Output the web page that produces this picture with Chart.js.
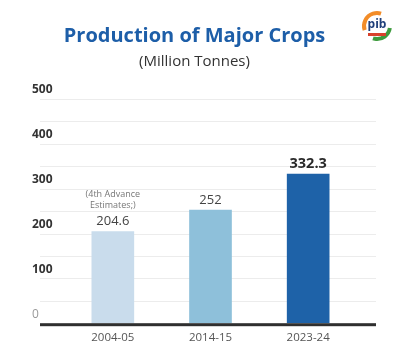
<!DOCTYPE html>
<html>
<head>
<meta charset="utf-8">
<script src="https://cdn.jsdelivr.net/npm/chart.js@4"></script>
<style>
  html, body { margin: 0; padding: 0; background: #fff; }
  #wrap { position: relative; width: 402px; height: 358px; }
</style>
</head>
<body>
<div id="wrap"><canvas id="graficoSafras"></canvas></div>
<script>
// dados
const anos = ['2004-05', '2014-15', '2023-24'];
const producao = [204.6, 252, 332.3];
const coresBarras = ['#c9dcec', '#8ec0da', '#1e62a8'];
const yTicks = [0, 100, 200, 300, 400, 500];
const linhasGrade = [50, 100, 150, 200, 250, 300, 350, 400, 450, 500];
const notaPrimeira = ['(4th Advance', 'Estimates;)'];

const FONTE = "'Open Sans', 'DejaVu Sans', sans-serif";

// linhas de grade mais largas que a área das barras
const gradePlugin = {
    id: 'grade',
    beforeDatasetsDraw(chart) {
        const c = chart.ctx;
        const y = chart.scales.y;
        const x0 = 40, x1 = 376;
        c.save();
        c.strokeStyle = '#ececec';
        c.lineWidth = 1;
        linhasGrade.forEach(v => {
            const py = Math.round(y.getPixelForValue(v)) + 0.5;
            c.beginPath();
            c.moveTo(x0, py);
            c.lineTo(x1, py);
            c.stroke();
        });
        c.restore();
    },
    afterDatasetsDraw(chart) {
        const c = chart.ctx;
        const py = chart.scales.y.getPixelForValue(0);
        c.save();
        c.fillStyle = '#2f2f2f';
        c.fillRect(40, py, 336, 3);
        c.restore();
    }
};

// rótulos de valor acima das barras
const rotulosPlugin = {
    id: 'rotulos',
    afterDatasetsDraw(chart) {
        const c = chart.ctx;
        const meta = chart.getDatasetMeta(0);
        c.save();
        c.textAlign = 'center';
        c.textBaseline = 'middle';
        meta.data.forEach((bar, i) => {
            const ultimo = i === producao.length - 1;
            c.fillStyle = ultimo ? '#2a2a2a' : '#444';
            c.font = (ultimo ? 'bold 14.5px ' : '13px ') + FONTE;
            c.fillText(String(producao[i]), bar.x, bar.y - 10);
            if (i === 0) {
                c.font = '9px ' + FONTE;
                c.fillStyle = '#777';
                c.fillText(notaPrimeira[0], bar.x, bar.y - 37);
                c.fillText(notaPrimeira[1], bar.x, bar.y - 26);
            }
        });
        c.restore();
    }
};

// logo simples no canto
const logoPlugin = {
    id: 'logo',
    afterDraw(chart) {
        const c = chart.ctx;
        const cx = 377, cy = 26, r = 15;
        c.save();
        c.lineWidth = 4;
        c.strokeStyle = '#f28c28';
        c.beginPath();
        c.arc(cx, cy, r - 2, Math.PI * 0.9, Math.PI * 1.6);
        c.stroke();
        c.strokeStyle = '#3d9b3d';
        c.beginPath();
        c.arc(cx, cy, r - 2, Math.PI * 0.05, Math.PI * 0.6);
        c.stroke();
        c.fillStyle = '#1f3f7a';
        c.font = 'bold 12px ' + FONTE;
        c.textAlign = 'center';
        c.textBaseline = 'middle';
        c.fillText('pib', cx, cy - 1);
        c.fillStyle = '#d9412b';
        c.fillRect(cx - 9, cy + 7, 18, 3);
        c.restore();
    }
};

const ctx = document.getElementById('graficoSafras').getContext('2d');
new Chart(ctx, {
    type: 'bar',
    data: {
        labels: anos,
        datasets: [{
            label: 'Production',
            data: producao,
            backgroundColor: coresBarras,
            borderWidth: 0,
            barThickness: 42
        }]
    },
    plugins: [gradePlugin, rotulosPlugin, logoPlugin],
    options: {
        responsive: true,
        maintainAspectRatio: false,
        animation: false,
        layout: {
            padding: { left: 32, right: 45, top: 0, bottom: 5 }
        },
        plugins: {
            legend: { display: false },
            tooltip: { enabled: false },
            title: {
                display: true,
                text: 'Production of Major Crops',
                color: '#1d5ea8',
                font: { family: FONTE, size: 20, weight: 'bold', lineHeight: 1.2 },
                padding: { top: 24, bottom: 5 }
            },
            subtitle: {
                display: true,
                text: '(Million Tonnes)',
                color: '#333',
                font: { family: FONTE, size: 15, lineHeight: 1.2 },
                padding: { top: 0, bottom: 28 }
            }
        },
        scales: {
            x: {
                grid: { display: false, drawTicks: false },
                border: { display: false },
                ticks: {
                    color: '#555',
                    padding: 8,
                    font: { family: FONTE, size: 11.5 }
                }
            },
            y: {
                min: 0,
                max: 500,
                afterFit(scale) { scale.width = 32; },
                afterBuildTicks(scale) {
                    scale.ticks = yTicks.map(v => ({ value: v }));
                },
                grid: { display: false, drawTicks: false },
                border: { display: false },
                ticks: {
                    crossAlign: 'far',
                    labelOffset: -9,
                    color: c => c.tick.value === 0 ? '#999' : '#333',
                    font: c => ({
                        family: FONTE,
                        size: 12,
                        weight: c.tick && c.tick.value === 0 ? 'normal' : 'bold'
                    })
                }
            }
        }
    }
});
</script>
</body>
</html>
